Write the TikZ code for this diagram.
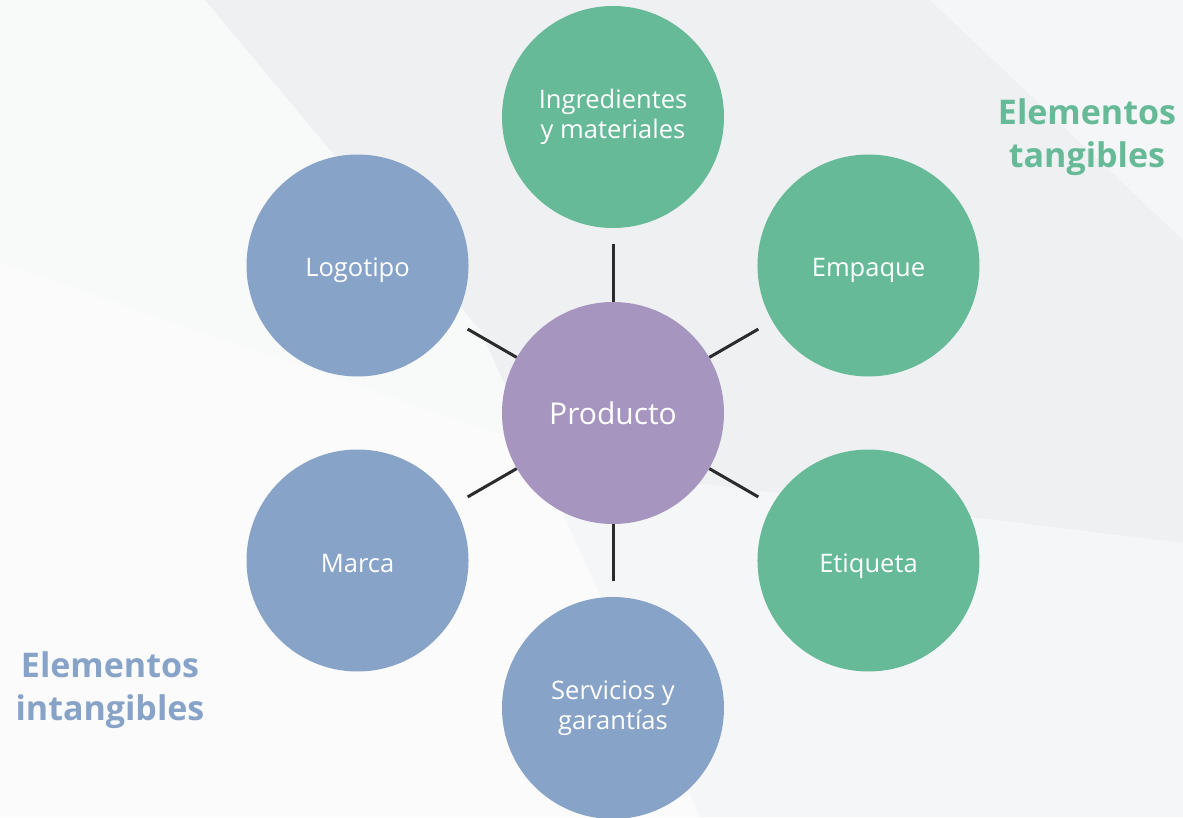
\documentclass[tikz,border=0pt]{standalone}
\usepackage{fontspec}
\setmainfont{Open Sans}
\definecolor{bggray}{HTML}{EEF0F2}
\definecolor{leafgreen}{HTML}{66BA98}
\definecolor{leafblue}{HTML}{88A3C8}
\definecolor{hubpurple}{HTML}{A595BF}
\definecolor{spoke}{HTML}{2B2B2B}

\begin{document}
\begin{tikzpicture}[x=1pt,y=1pt,
    hub/.style={circle,fill=hubpurple,minimum size=222pt,inner sep=0pt,align=center,text=white,font=\fontsize{30}{36}\selectfont},
    leaf/.style={circle,minimum size=222pt,inner sep=0pt,align=center,text=white,font=\fontsize{25.5}{30}\selectfont},
    tang/.style={leaf,fill=leafgreen},
    intang/.style={leaf,fill=leafblue},
    oneline/.style={text height=23pt,text depth=0pt},
    link/.style={line width=3pt,spoke,shorten >=16pt},
    title/.style={align=center,font=\bfseries\fontsize{34}{43}\selectfont}]
  % background with soft light wedges
  \fill[bggray] (-613,-404) rectangle (570,413);
  \fill[white,opacity=0.6] (-613,413) -- (-408,413) -- (-133,83) -- (87,-404) -- (-613,-404) -- cycle;
  \fill[white,opacity=0.45] (-613,150) -- (0,-60) -- (570,-130) -- (570,-404) -- (-613,-404) -- cycle;
  \fill[white,opacity=0.4] (317,413) -- (570,413) -- (570,173) -- cycle;
  \useasboundingbox (-613,-404) rectangle (570,413);
  % hub and the six elements around it
  \node[hub] (prod) at (0,0) {Producto};
  \node[tang] (ingr) at (90:296) {Ingredientes\\y materiales};
  \node[tang,oneline] (empq) at (30:295) {Empaque};
  \node[tang,oneline] (etiq) at (-30:295) {Etiqueta};
  \node[intang] (serv) at (-90:295) {Servicios y\\garantías};
  \node[intang,oneline] (marca) at (-150:295) {Marca};
  \node[intang,oneline] (logo) at (150:295) {Logotipo};
  \foreach \n in {ingr,empq,etiq,serv,marca,logo} \draw[link] (prod) -- (\n);
  % group labels
  \node[title,text=leafgreen] (tlab) at (474,276) {Elementos\\tangibles};
  \node[title,text=leafblue] (ilab) at (-503,-277) {Elementos\\intangibles};
\end{tikzpicture}
\end{document}
